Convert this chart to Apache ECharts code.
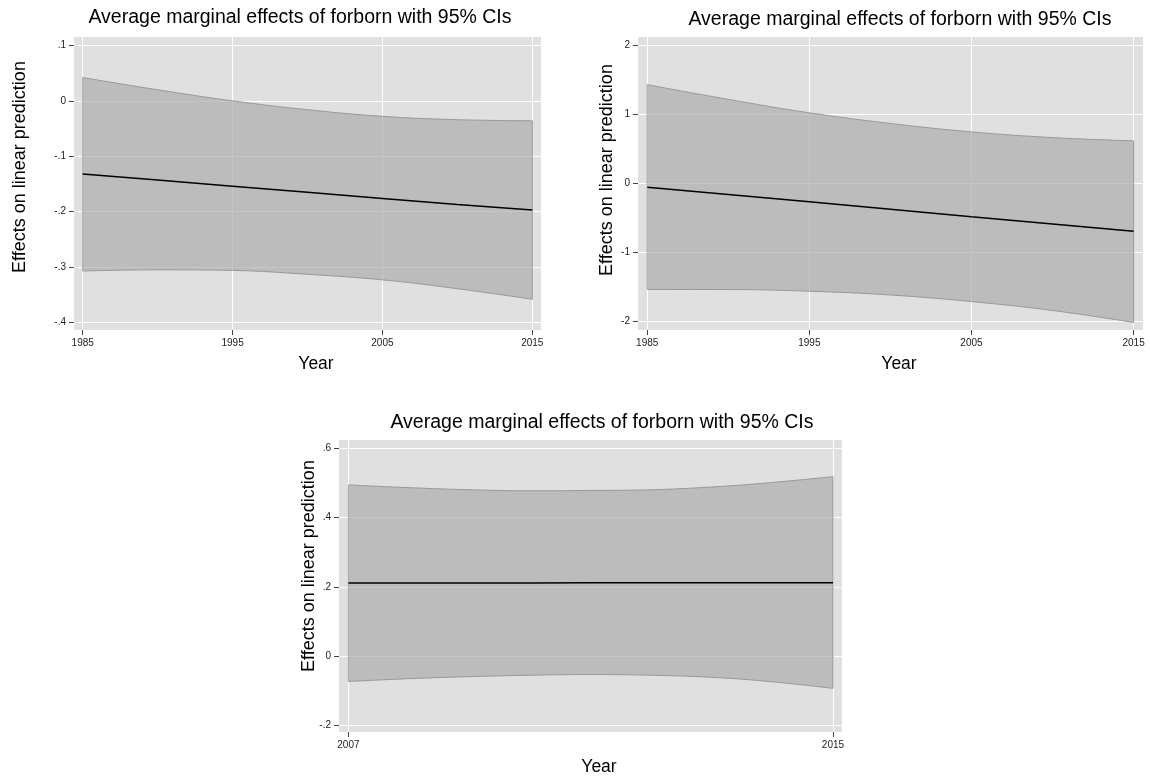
<!DOCTYPE html>
<html>
<head>
<meta charset="utf-8">
<script src="https://cdn.jsdelivr.net/npm/echarts@6/dist/echarts.min.js"></script>
<style>
  html, body { margin: 0; padding: 0; background: #fff; }
  #main { width: 1150px; height: 778px; }
</style>
</head>
<body>
<div id="main"></div>
<script>
// panel 1 : 1985-2015
var years1 = [1985, 1990, 1995, 2000, 2005, 2010, 2015];
var effect1 = [-0.132, -0.143, -0.154, -0.165, -0.176, -0.187, -0.197];
var upper1 = [0.042, 0.020, 0.000, -0.016, -0.028, -0.034, -0.036];
var lower1 = [-0.307, -0.305, -0.306, -0.313, -0.323, -0.339, -0.358];
var xTicks1 = [1985, 1995, 2005, 2015];
var yTicks1 = [-0.4, -0.3, -0.2, -0.1, 0, 0.1];

// panel 2 : 1985-2015
var years2 = [1985, 1990, 1995, 2000, 2005, 2010, 2015];
var effect2 = [-0.056, -0.160, -0.265, -0.374, -0.483, -0.588, -0.692];
var upper2 = [1.427, 1.214, 1.020, 0.866, 0.744, 0.662, 0.614];
var lower2 = [-1.534, -1.535, -1.559, -1.614, -1.709, -1.838, -2.010];
var xTicks2 = [1985, 1995, 2005, 2015];
var yTicks2 = [-2, -1, 0, 1, 2];

// panel 3 : 2007-2015
var years3 = [2007, 2008, 2009, 2010, 2011, 2012, 2013, 2014, 2015];
var effect3 = [0.211, 0.211, 0.211, 0.211, 0.212, 0.212, 0.212, 0.212, 0.212];
var upper3 = [0.495, 0.487, 0.481, 0.478, 0.479, 0.481, 0.489, 0.502, 0.519];
var lower3 = [-0.074, -0.066, -0.060, -0.056, -0.054, -0.056, -0.062, -0.075, -0.094];
var xTicks3 = [2007, 2015];
var yTicks3 = [-0.2, 0, 0.2, 0.4, 0.6];

var titleText = 'Average marginal effects of forborn with 95% CIs';
var yName = 'Effects on linear prediction';
var xName = 'Year';

var FONT = '"Liberation Sans", Arial, Helvetica, sans-serif';

function fmt(v) {
  var s = String(+(+v).toFixed(3));
  return s.replace(/^(-?)0\./, '$1.');
}

// value first, year second -> stacking happens on the value column
function pairs(xs, ys) {
  return xs.map(function (x, i) { return [ys[i], x]; });
}

function xAxisFor(idx, min, max, ticks) {
  return {
    type: 'value', gridIndex: idx, min: min, max: max,
    axisLine: { show: false, onZero: false },
    axisTick: { show: true, length: 5, customValues: ticks, lineStyle: { color: '#444' } },
    axisLabel: { customValues: ticks, fontSize: 10, color: '#222', margin: 8, fontFamily: FONT, formatter: function (v) { return String(v); } },
    splitLine: { show: true, lineStyle: { color: '#fff', width: 1 } }
  };
}

function yAxisFor(idx, min, max, ticks) {
  return {
    type: 'value', gridIndex: idx, min: min, max: max,
    axisLine: { show: false, onZero: false },
    axisTick: { show: true, length: 5, customValues: ticks, lineStyle: { color: '#444' } },
    axisLabel: { customValues: ticks, fontSize: 10, color: '#222', margin: 8, fontFamily: FONT, formatter: fmt },
    splitLine: { show: true, lineStyle: { color: '#fff', width: 1 } }
  };
}

function panelSeries(idx, xs, eff, up, lo) {
  var diff = up.map(function (u, i) { return +(u - lo[i]).toFixed(4); });
  var n = xs.length - 1;
  var enc = { x: 1, y: 0 };
  return [
    {
      type: 'line', xAxisIndex: idx, yAxisIndex: idx, stack: 'ci' + idx, stackStrategy: 'all',
      data: pairs(xs, lo), encode: enc, symbol: 'none', smooth: 0.4,
      lineStyle: { color: '#999', width: 1 }, z: 2
    },
    {
      type: 'line', xAxisIndex: idx, yAxisIndex: idx, stack: 'ci' + idx, stackStrategy: 'all',
      data: pairs(xs, diff), encode: enc, symbol: 'none', smooth: 0.4,
      lineStyle: { color: '#999', width: 1 },
      areaStyle: { color: 'rgba(168,168,168,0.66)', opacity: 1 }, z: 2
    },
    {
      type: 'line', xAxisIndex: idx, yAxisIndex: idx,
      data: [[lo[0], xs[0]], [up[0], xs[0]]], encode: enc, symbol: 'none',
      lineStyle: { color: '#a8a8a8', width: 1 }, z: 2
    },
    {
      type: 'line', xAxisIndex: idx, yAxisIndex: idx,
      data: [[lo[n], xs[n]], [up[n], xs[n]]], encode: enc, symbol: 'none',
      lineStyle: { color: '#999', width: 1 }, z: 2
    },
    {
      type: 'line', xAxisIndex: idx, yAxisIndex: idx,
      data: pairs(xs, eff), encode: enc, symbol: 'none',
      lineStyle: { color: '#000', width: 1.5 }, z: 3
    }
  ];
}

function label(x, y, text, size, rot) {
  return {
    type: 'text', x: x, y: y, rotation: rot || 0, silent: true,
    style: { text: text, x: 0, y: 0, align: 'center', verticalAlign: 'middle', fontSize: size, fontFamily: FONT, fill: '#000' }
  };
}

var chart = echarts.init(document.getElementById('main'));
chart.setOption({
  animation: false,
  backgroundColor: '#fff',
  textStyle: { fontFamily: FONT },
  grid: [
    { left: 74, top: 37, width: 467, height: 293, show: true, backgroundColor: '#e0e0e0', borderWidth: 0, containLabel: false, outerBoundsMode: 'none' },
    { left: 638, top: 37, width: 505, height: 293, show: true, backgroundColor: '#e0e0e0', borderWidth: 0, containLabel: false, outerBoundsMode: 'none' },
    { left: 339, top: 440, width: 503, height: 292, show: true, backgroundColor: '#e0e0e0', borderWidth: 0, containLabel: false, outerBoundsMode: 'none' }
  ],
  xAxis: [
    xAxisFor(0, 1984.42, 2015.58, xTicks1),
    xAxisFor(1, 1984.43, 2015.58, xTicks2),
    xAxisFor(2, 2006.845, 2015.149, xTicks3)
  ],
  yAxis: [
    yAxisFor(0, -0.4135, 0.1152, yTicks1),
    yAxisFor(1, -2.12, 2.116, yTicks2),
    yAxisFor(2, -0.2203, 0.625, yTicks3)
  ],
  graphic: [
    label(300, 18, titleText, 19.5),
    label(900, 20, titleText, 19.5),
    label(602, 423, titleText, 19.5),
    label(316, 364, xName, 17.5),
    label(899, 364, xName, 17.5),
    label(599, 767, xName, 17.5),
    label(20, 167, yName, 18, Math.PI / 2),
    label(607, 170, yName, 18, Math.PI / 2),
    label(309, 566, yName, 18, Math.PI / 2)
  ],
  series: [].concat(
    panelSeries(0, years1, effect1, upper1, lower1),
    panelSeries(1, years2, effect2, upper2, lower2),
    panelSeries(2, years3, effect3, upper3, lower3)
  )
});
</script>
</body>
</html>
